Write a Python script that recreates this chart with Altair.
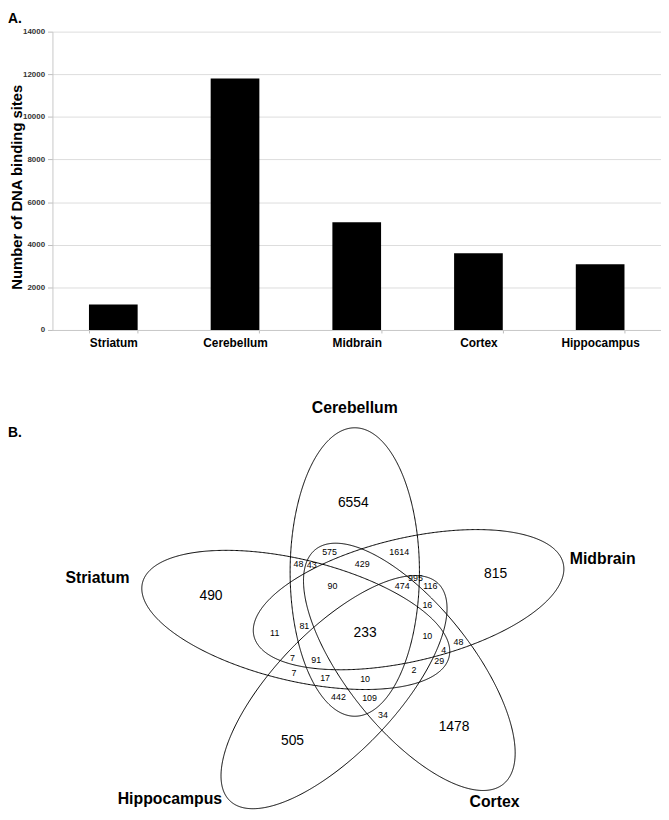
import numpy as np
import pandas as pd
import altair as alt

# ----------------------------- data -----------------------------
tissues = ["Striatum", "Cerebellum", "Midbrain", "Cortex", "Hippocampus"]
binding_sites = [1200, 11800, 5050, 3600, 3080]
y_tick_values = [0, 2000, 4000, 6000, 8000, 10000, 12000, 14000]
y_title = "Number of DNA binding sites"

venn_sets = ["Cerebellum", "Midbrain", "Cortex", "Hippocampus", "Striatum"]
set_letters = ["C", "M", "X", "H", "S"]
region_members = [
    "C", "M", "X", "H", "S",
    "CM", "MX", "XH", "HS", "SC",
    "CX", "MH", "XS", "HC", "SM",
    "CMX", "MXH", "XHS", "HSC", "SCM",
    "CXS", "CMH", "MXS", "XHC", "HSM",
    "CMXS", "CMXH", "MXHS", "CXHS", "CMHS",
    "CMXHS",
]
region_counts = [
    6554, 815, 1478, 505, 490,
    1614, 48, 34, 7, 48,
    575, 116, 29, 442, 11,
    429, 16, 2, 17, 81,
    43, 995, 4, 109, 7,
    90, 474, 10, 10, 91,
    233,
]
panel_letters = ["A.", "B."]

# ----------------------------- layout -----------------------------
FONT = "Liberation Sans"
PLOT_LEFT, PLOT_TOP, PLOT_W, PLOT_H = 53, 27, 616, 302   # bar panel, page pixels
PAGE_MARGIN = 8
SVG_H = 804

# Venn geometry: ellipses drawn in an unstretched frame, then widened in x
STRETCH_CX, STRETCH_X = 362.0, 1.1
ELLIPSES = {  # centre x, centre y, axis angle (deg), semi-major, semi-minor
    "Cerebellum":  (359.3, 574.0, 90.0, 146.0, 59.5),
    "Midbrain":    (408.8, 602.0, 15.0, 147.0, 62.0),
    "Cortex":      (409.5, 670.0, -55.0, 147.0, 59.5),
    "Hippocampus": (340.2, 695.6, -130.0, 146.0, 58.5),
    "Striatum":    (305.0, 622.5, 164.6, 146.0, 61.0),
}
NAME_OFFSETS = {  # offset of the set name from the ellipse's far tip, alignment
    "Cerebellum":  (0.0, -15.0, "center"),
    "Midbrain":    (7.0, 2.0, "left"),
    "Cortex":      (-6.5, 21.0, "center"),
    "Hippocampus": (-10.0, 1.5, "right"),
    "Striatum":    (-13.5, 1.0, "right"),
}
LETTER_POS = {"A.": (8, 18), "B.": (8, 437)}
BIG_FONT, SMALL_FONT, NAME_FONT = 14, 9, 16


def to_screen(xu):
    return STRETCH_CX + (xu - STRETCH_CX) * STRETCH_X


def to_unstretched(x):
    return STRETCH_CX + (x - STRETCH_CX) / STRETCH_X


def outline(name, n=720):
    cx, cy, ang, a, b = ELLIPSES[name]
    th = np.radians(ang)
    t = np.linspace(0, 2 * np.pi, n + 1)
    xu = cx + a * np.cos(t) * np.cos(th) - b * np.sin(t) * np.sin(th)
    ym = a * np.cos(t) * np.sin(th) + b * np.sin(t) * np.cos(th)
    return to_screen(xu), cy - ym


def inside(name, X, Y):
    cx, cy, ang, a, b = ELLIPSES[name]
    th = np.radians(ang)
    dx = to_unstretched(X) - cx
    dy = cy - Y
    u = dx * np.cos(th) + dy * np.sin(th)
    v = -dx * np.sin(th) + dy * np.cos(th)
    return (u / a) ** 2 + (v / b) ** 2 < 1


def far_tip(name):
    cx, cy, ang, a, b = ELLIPSES[name]
    th = np.radians(ang)
    return to_screen(cx + a * np.cos(th)), cy - a * np.sin(th)


# ellipse outlines
rows = []
for name in venn_sets:
    xs, ys = outline(name)
    for i, (x, y) in enumerate(zip(xs, ys)):
        rows.append({"set": name, "i": i, "px": float(x), "py": float(y)})
outline_df = pd.DataFrame(rows)

# region label anchors: most open point inside each region
gx = np.arange(110, 610, 1.5)
gy = np.arange(420, 830, 1.5)
GX, GY = np.meshgrid(gx, gy)
GX, GY = GX.ravel(), GY.ravel()
code = np.zeros(GX.shape, dtype=int)
for k, name in enumerate(venn_sets):
    code |= inside(name, GX, GY).astype(int) << k
keep = code > 0
GX, GY, code = GX[keep], GY[keep], code[keep]
BX = np.concatenate([outline(n, 540)[0] for n in venn_sets])
BY = np.concatenate([outline(n, 540)[1] for n in venn_sets])
clear = np.empty(GX.size)
step = 1500
for s in range(0, GX.size, step):
    ddx = (GX[s:s + step, None] - BX[None, :]) * 0.6
    ddy = GY[s:s + step, None] - BY[None, :]
    clear[s:s + step] = np.sqrt((ddx * ddx + ddy * ddy).min(axis=1))

label_rows = []
for members, count in zip(region_members, region_counts):
    c = sum(1 << set_letters.index(ch) for ch in members)
    sel = np.where(code == c)[0]
    j = sel[np.argmax(clear[sel])]
    px, py = float(GX[j]), float(GY[j])
    big = len(members) == 1 or len(members) == 5
    if len(members) == 1:
        # blend the most open point with the region's centroid
        mx, my = 0.5 * (px + GX[sel].mean()), 0.5 * (py + GY[sel].mean())
        k2 = sel[np.argmin((GX[sel] - mx) ** 2 + (GY[sel] - my) ** 2)]
        px, py = float(GX[k2]), float(GY[k2])
    label_rows.append({"count": str(count), "px": px, "py": py,
                       "fs": BIG_FONT if big else SMALL_FONT})
label_df = pd.DataFrame(label_rows)

# set names
name_rows = {"center": [], "left": [], "right": []}
for name in venn_sets:
    tx, ty = far_tip(name)
    ox, oy, al = NAME_OFFSETS[name]
    name_rows[al].append({"name": name, "px": float(tx + ox), "py": float(ty + oy)})

letter_df = pd.DataFrame([{"t": t, "px": LETTER_POS[t][0], "py": LETTER_POS[t][1]}
                          for t in panel_letters])

bar_df = pd.DataFrame({"tissue": tissues, "sites": binding_sites})

# ----------------------------- charts -----------------------------
bars = alt.Chart(bar_df).mark_bar(color="black").encode(
    x=alt.X("tissue:N", sort=tissues,
            scale=alt.Scale(paddingInner=0.6, paddingOuter=0.3),
            axis=alt.Axis(title=None, labelAngle=0, labelFont=FONT, labelFontSize=12,
                          labelFontWeight="bold", labelColor="black", labelPadding=5,
                          tickSize=3, tickBand="extent", tickColor="#bdbdbd",
                          domainColor="#c8c8c8", grid=False)),
    y=alt.Y("sites:Q", scale=alt.Scale(domain=[0, 14000], nice=False),
            axis=alt.Axis(values=y_tick_values, format="d", title=y_title,
                          titleFont=FONT, titleFontSize=15, titleFontWeight="bold",
                          titleColor="black", titleAngle=270, titleAlign="center",
                          titleBaseline="alphabetic", titleX=-31, titleY=157,
                          labelFont=FONT, labelFontSize=8, labelFontWeight="bold",
                          labelColor="#333333", labelPadding=3, tickSize=5,
                          tickColor="#bdbdbd", domainColor="#c8c8c8",
                          gridColor="#dcdcdc", grid=True)),
)

PX = alt.X("px:Q", scale=alt.Scale(domain=[PLOT_LEFT, PLOT_LEFT + PLOT_W], nice=False, zero=False), axis=None)
PY = alt.Y("py:Q", scale=alt.Scale(domain=[PLOT_TOP, PLOT_TOP + PLOT_H], nice=False, zero=False, reverse=True), axis=None)

ellipses = alt.Chart(outline_df).mark_line(color="black", strokeWidth=1).encode(
    x=PX, y=PY, detail="set:N", order=alt.Order("i:Q"))

region_text = alt.Chart(label_df).mark_text(font=FONT, color="black", align="center",
                                            baseline="middle").encode(
    x=PX, y=PY, text="count:N", size=alt.Size("fs:Q", scale=None, legend=None))

name_layers = []
for al, rws in name_rows.items():
    if rws:
        name_layers.append(
            alt.Chart(pd.DataFrame(rws)).mark_text(font=FONT, fontSize=NAME_FONT, fontWeight="bold",
                                                   color="black", align=al, baseline="alphabetic")
            .encode(x=PX, y=PY, text="name:N"))

letters = alt.Chart(letter_df).mark_text(font=FONT, fontSize=14, fontWeight="bold", color="black",
                                         align="left", baseline="alphabetic").encode(
    x=PX, y=PY, text="t:N")

venn = alt.layer(ellipses, region_text, *name_layers, letters)

chart = alt.layer(bars, venn).resolve_scale(x="independent", y="independent").properties(
    width=PLOT_W, height=PLOT_H,
    autosize=alt.AutoSizeParams(type="none"),
    padding={"left": PLOT_LEFT - PAGE_MARGIN, "top": PLOT_TOP - PAGE_MARGIN, "right": 0,
             "bottom": SVG_H - (PLOT_TOP - PAGE_MARGIN) - PLOT_H},
    background="white",
).configure_view(strokeWidth=0)

chart.save("out.html", embed_options={"renderer": "svg", "actions": False})
